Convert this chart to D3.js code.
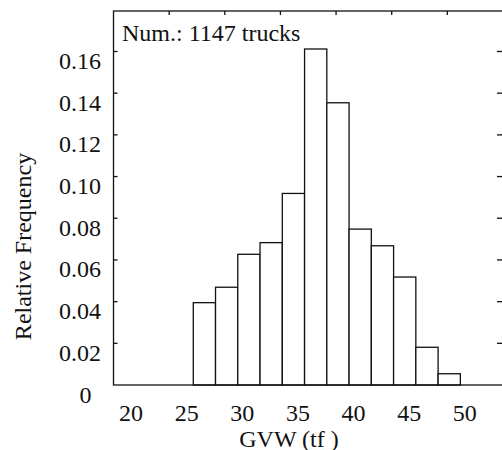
<!DOCTYPE html>
<html>
<head>
<meta charset="utf-8">
<script src="https://cdn.jsdelivr.net/npm/d3@7"></script>
<style>
    body { margin: 0; background: #fff; }
</style>
</head>
<body>
<div id="chart"></div>
<script>
"use strict";

// GVW bins (tf), 2 tf wide
let binStarts = [26, 28, 30, 32, 34, 36, 38, 40, 42, 44, 46, 48];
let binWidth = 2;
// relative frequency per bin
let relFreq = [0.0395, 0.0469, 0.0627, 0.0683, 0.0919, 0.1612, 0.1354, 0.0748, 0.0668, 0.0518, 0.0181, 0.0054];
let xTicks = [20, 25, 30, 35, 40, 45, 50];
let frameTicks = [25, 30, 35, 40, 45, 50];
let yTicks = [0, 0.02, 0.04, 0.06, 0.08, 0.10, 0.12, 0.14, 0.16];
let note = "Num.: 1147 trucks";

function histogram() {
    let width = 502;
    let height = 450;
    // right side of the frame falls just outside the picture
    let left = 113.5, right = 503, top = 11, bottom = 385;

    let svg = d3.select("#chart").append("svg")
        .attr("width", width).attr("height", height)
        .attr("font-family", "'Liberation Serif', 'DejaVu Serif', serif")
        .attr("font-size", 24).attr("fill", "#111");

    let x = d3.scaleLinear().domain([20, 55]).range([left, right]);
    let y = d3.scaleLinear().domain([0, 0.16]).range([bottom, 51.5]);

    // bars (sit a little right of the frame ticks in the original)
    svg.append("g").attr("transform", "translate(13,0)")
        .selectAll("rect").data(binStarts).enter().append("rect")
        .attr("x", function (d) { return x(d); })
        .attr("width", function (d) { return x(d + binWidth) - x(d); })
        .attr("y", function (d, i) { return y(relFreq[i]); })
        .attr("height", function (d, i) { return bottom - y(relFreq[i]); })
        .attr("fill", "#fff").attr("stroke", "#111").attr("stroke-width", 1.3);

    // frame
    svg.append("rect").attr("x", left).attr("y", top)
        .attr("width", right + 2 - left).attr("height", bottom - top)
        .attr("fill", "none").attr("stroke", "#111").attr("stroke-width", 1.3);

    // inward ticks: top, left, right
    svg.append("g").selectAll("line").data(frameTicks).enter().append("line")
        .attr("x1", function (d) { return x(d); }).attr("x2", function (d) { return x(d); })
        .attr("y1", top).attr("y2", top + 4)
        .attr("stroke", "#111").attr("stroke-width", 1.3);
    svg.append("g").selectAll("line").data(yTicks.slice(1)).enter().append("line")
        .attr("x1", left).attr("x2", left + 4)
        .attr("y1", function (d) { return y(d); }).attr("y2", function (d) { return y(d); })
        .attr("stroke", "#111").attr("stroke-width", 1.3);
    svg.append("g").selectAll("line").data(yTicks.slice(1)).enter().append("line")
        .attr("x1", right - 6).attr("x2", right + 2)
        .attr("y1", function (d) { return y(d); }).attr("y2", function (d) { return y(d); })
        .attr("stroke", "#111").attr("stroke-width", 1.3);

    // y tick labels
    svg.append("g").selectAll("text").data(yTicks).enter().append("text")
        .attr("x", function (d) { return d === 0 ? 91.5 : 101; })
        .attr("y", function (d) { return y(d) + 17.5; })
        .style("text-anchor", "end")
        .text(function (d) { return d === 0 ? "0" : d3.format(".2f")(d); });

    // x tick labels
    svg.append("g").selectAll("text").data(xTicks).enter().append("text")
        .attr("x", function (d) { return x(d) + 17.5; })
        .attr("y", 420.5)
        .style("text-anchor", "middle")
        .text(function (d) { return d; });

    // axis titles
    svg.append("text").attr("x", 289).attr("y", 446.5)
        .style("text-anchor", "middle").text("GVW (tf )");
    svg.append("text").attr("transform", "translate(31,246.5) rotate(-90)")
        .style("text-anchor", "middle").text("Relative Frequency");

    svg.append("text").attr("x", 122).attr("y", 40.5).text(note);
}

window.onload = function () {
    histogram();
};
</script>
</body>
</html>
